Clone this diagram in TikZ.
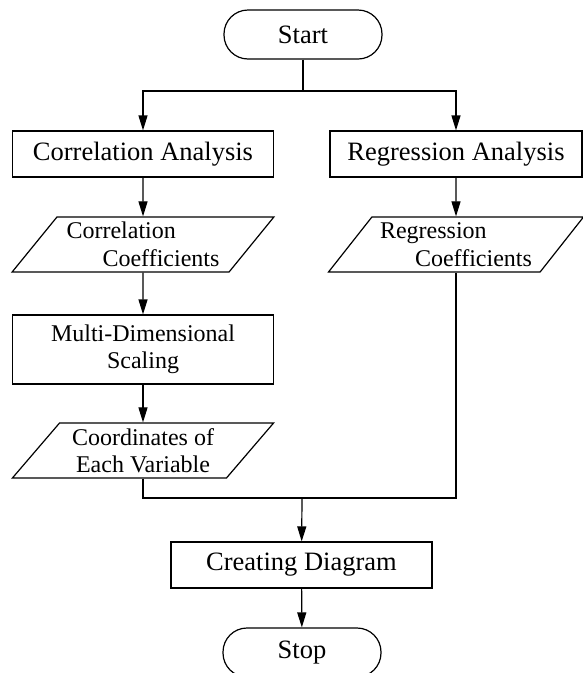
\documentclass[tikz,border=0pt]{standalone}
\usepackage{fontspec}
\setmainfont{Liberation Serif}
\usetikzlibrary{shapes.geometric,arrows.meta}
\newcommand{\bigtxt}{\fontsize{26.5}{30}\selectfont}
\newcommand{\smalltxt}{\fontsize{24}{27.5}\selectfont}

\begin{document}
\begin{tikzpicture}[x=1pt,y=-1pt,line width=1.2pt,
  arr/.style={-{Triangle[length=15pt,width=9pt]}},
  endbox/.style={draw,rectangle,rounded corners=24pt,minimum width=158pt,minimum height=49pt,font=\bigtxt},
  procbox/.style={draw,rectangle,minimum width=261pt,minimum height=46pt,inner sep=2pt,font=\bigtxt},
  databox/.style={draw,trapezium,trapezium left angle=49,trapezium right angle=131,trapezium stretches=true,
    minimum width=262pt,minimum height=55pt,inner sep=1pt,align=left,font=\smalltxt}]
\useasboundingbox (0,0) rectangle (583,673);
\node[endbox] (start) at (303,34.5) {Start};
\node[procbox] (corr) at (143,154) {Correlation Analysis};
\node[procbox,minimum width=252pt] (reg) at (456,154) {Regression Analysis};
\node[databox] (corrc) at (143,244.5) {Correlation\\\hspace*{36pt}Coefficients};
\node[databox,minimum width=255pt] (regc) at (456,244.5) {Regression\\\hspace*{35pt}Coefficients};
\node[procbox,minimum height=69pt,align=center,font=\smalltxt] (mds) at (143,349.5) {Multi-Dimensional\\Scaling};
\node[databox,align=center] (coord) at (143,450.5) {Coordinates of\\Each Variable};
\node[procbox] (diag) at (301.5,565) {Creating Diagram};
\node[endbox] (stop) at (302,652.5) {Stop};
\coordinate (fork) at (303,91);
\coordinate (join) at (302,498);
\draw (start) -- (fork);
\draw[arr] (fork) -| (corr);
\draw[arr] (fork) -| (reg);
\draw[arr] (corr) -- (corrc);
\draw[arr] (reg) -- (regc);
\draw[arr] (corrc) -- (mds);
\draw[arr] (mds) -- (coord);
\draw (coord) |- (join) -| (regc);
\draw[arr] (join) -- (diag);
\draw[arr] (diag) -- (stop);
\end{tikzpicture}
\end{document}
